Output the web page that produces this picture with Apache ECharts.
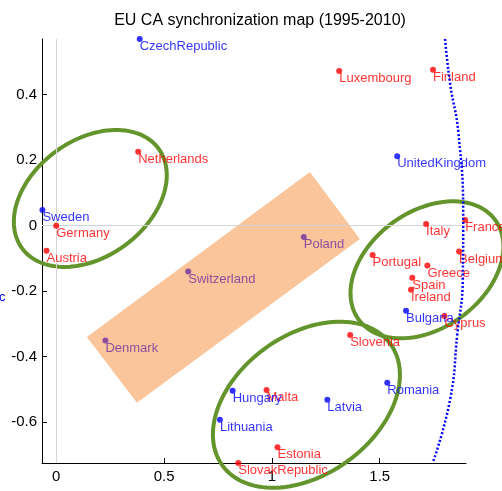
<!DOCTYPE html>
<html>
<head>
<meta charset="utf-8">
<script src="https://cdn.jsdelivr.net/npm/echarts@6/dist/echarts.min.js"></script>
<style>
  html, body { margin: 0; padding: 0; background: #fff; }
  #main { width: 502px; height: 491px; }
</style>
</head>
<body>
<div id="main"></div>
<script>
// countries by colour group: [x, y, name]
const redPoints = [
  [0.380, 0.226, 'Netherlands'],
  [0.000, 0.000, 'Germany'],
  [-0.045, -0.077, 'Austria'],
  [1.312, 0.472, 'Luxembourg'],
  [1.747, 0.476, 'Finland'],
  [1.896, 0.017, 'France'],
  [1.715, 0.005, 'Italy'],
  [1.467, -0.090, 'Portugal'],
  [1.868, -0.079, 'Belgium'],
  [1.721, -0.122, 'Greece'],
  [1.651, -0.159, 'Spain'],
  [1.645, -0.196, 'Ireland'],
  [1.800, -0.276, 'Cyprus'],
  [1.363, -0.334, 'Slovenia'],
  [0.975, -0.502, 'Malta'],
  [1.026, -0.677, 'Estonia'],
  [0.844, -0.725, 'SlovakRepublic']
]
const bluePoints = [
  [0.387, 0.570, 'CzechRepublic'],
  [-0.064, 0.048, 'Sweden'],
  [1.581, 0.212, 'UnitedKingdom'],
  [1.622, -0.260, 'Bulgaria'],
  [1.535, -0.480, 'Romania'],
  [0.818, -0.504, 'Hungary'],
  [0.759, -0.593, 'Lithuania'],
  [1.257, -0.532, 'Latvia']
]
const purplePoints = [
  [1.148, -0.035, 'Poland'],
  [0.612, -0.140, 'Switzerland'],
  [0.228, -0.351, 'Denmark']
]

// dotted border curve
const borderCurve = [
  [1.803, 0.570], [1.826, 0.435], [1.865, 0.282], [1.887, 0.017],
  [1.885, -0.166], [1.860, -0.329], [1.826, -0.532], [1.746, -0.724]
]

// orange band corners
const bandCorners = [[1.176, 0.164], [1.408, -0.041], [0.374, -0.541], [0.142, -0.340]]

// group ellipses: centre in data units
const groupCentres = [[0.158, 0.083], [1.719, -0.135], [1.160, -0.547]]
const groupShapes = [
  { a: 84.5, b: 58.3, rot: 36 },
  { a: 84.5, b: 58.3, rot: 36 },
  { a: 103.7, b: 69.9, rot: 35.8 }
]

const xTicks = [0, 0.5, 1, 1.5]
const yTicks = [-0.6, -0.4, -0.2, 0, 0.2, 0.4]

const FONT = 'Liberation Sans, Arial, sans-serif'

function pointSeries (pts, color) {
  return {
    type: 'scatter',
    data: pts,
    symbolSize: 6,
    clip: false,
    z: 5,
    itemStyle: { color: color },
    label: {
      show: true,
      position: ['50%', '50%'],
      offset: [0, 1],
      align: 'left',
      verticalAlign: 'top',
      color: color,
      fontFamily: FONT,
      fontSize: 13,
      formatter: p => p.data[2]
    }
  }
}

const myChart = echarts.init(document.getElementById('main'))
myChart.setOption({
  animation: false,
  title: {
    text: 'EU CA synchronization map (1995-2010)',
    left: 255,
    textAlign: 'center',
    top: 8,
    textStyle: { fontFamily: FONT, fontSize: 16, fontWeight: 'normal', color: '#000' }
  },
  grid: { left: 42, right: 36, top: 39, bottom: 28 },
  xAxis: {
    type: 'value',
    min: -0.066,
    max: 1.9,
    axisLine: { onZero: false, lineStyle: { color: '#000', width: 1 } },
    axisTick: { inside: true, length: 5, customValues: xTicks, lineStyle: { color: '#000' } },
    axisLabel: { customValues: xTicks, margin: 6, color: '#000', fontFamily: FONT, fontSize: 15, formatter: v => String(v) },
    splitLine: { show: false }
  },
  yAxis: {
    type: 'value',
    min: -0.725,
    max: 0.57,
    axisLine: { show: true, onZero: false, lineStyle: { color: '#000', width: 1 } },
    axisTick: { show: true, inside: true, length: 5, customValues: yTicks, lineStyle: { color: '#000' } },
    axisLabel: { customValues: yTicks, margin: 5, color: '#000', fontFamily: FONT, fontSize: 15, formatter: v => String(v) },
    splitLine: { show: false }
  },
  graphic: [{
    type: 'text',
    left: -1,
    top: 291,
    style: { text: 'c', fill: '#0000ff', font: '13px ' + FONT }
  }],
  series: [
    {
      type: 'custom',
      z: 1,
      clip: false,
      data: [0],
      renderItem: (params, api) => ({
        type: 'polygon',
        shape: { points: bandCorners.map(c => api.coord(c)) },
        style: { fill: '#fbc59b' }
      }),
      markLine: {
        silent: true,
        symbol: 'none',
        label: { show: false },
        lineStyle: { color: '#d4d4d4', width: 1, type: 'solid' },
        data: [{ xAxis: 0 }, { yAxis: 0 }]
      }
    },
    {
      type: 'custom',
      z: 3,
      clip: false,
      data: groupCentres,
      renderItem: (params, api) => {
        const c = api.coord([api.value(0), api.value(1)])
        const s = groupShapes[params.dataIndex]
        const phi = s.rot * Math.PI / 180
        const ux = Math.cos(phi), uy = -Math.sin(phi)
        const vx = Math.sin(phi), vy = Math.cos(phi)
        const pts = []
        for (let i = 0; i < 120; i++) {
          const t = i / 120 * Math.PI * 2
          const ca = s.a * Math.cos(t), sb = s.b * Math.sin(t)
          pts.push([c[0] + ca * ux + sb * vx, c[1] + ca * uy + sb * vy])
        }
        return {
          type: 'polygon',
          shape: { points: pts },
          style: { fill: 'none', stroke: '#64942c', lineWidth: 4 }
        }
      }
    },
    pointSeries(redPoints, '#ff0000'),
    pointSeries(bluePoints, '#0000ff'),
    pointSeries(purplePoints, '#7030a0'),
    {
      type: 'line',
      data: borderCurve,
      smooth: true,
      showSymbol: false,
      clip: false,
      z: 6,
      lineStyle: { color: '#0000ff', width: 2.5, type: [2, 2] }
    }
  ]
})
</script>
</body>
</html>
